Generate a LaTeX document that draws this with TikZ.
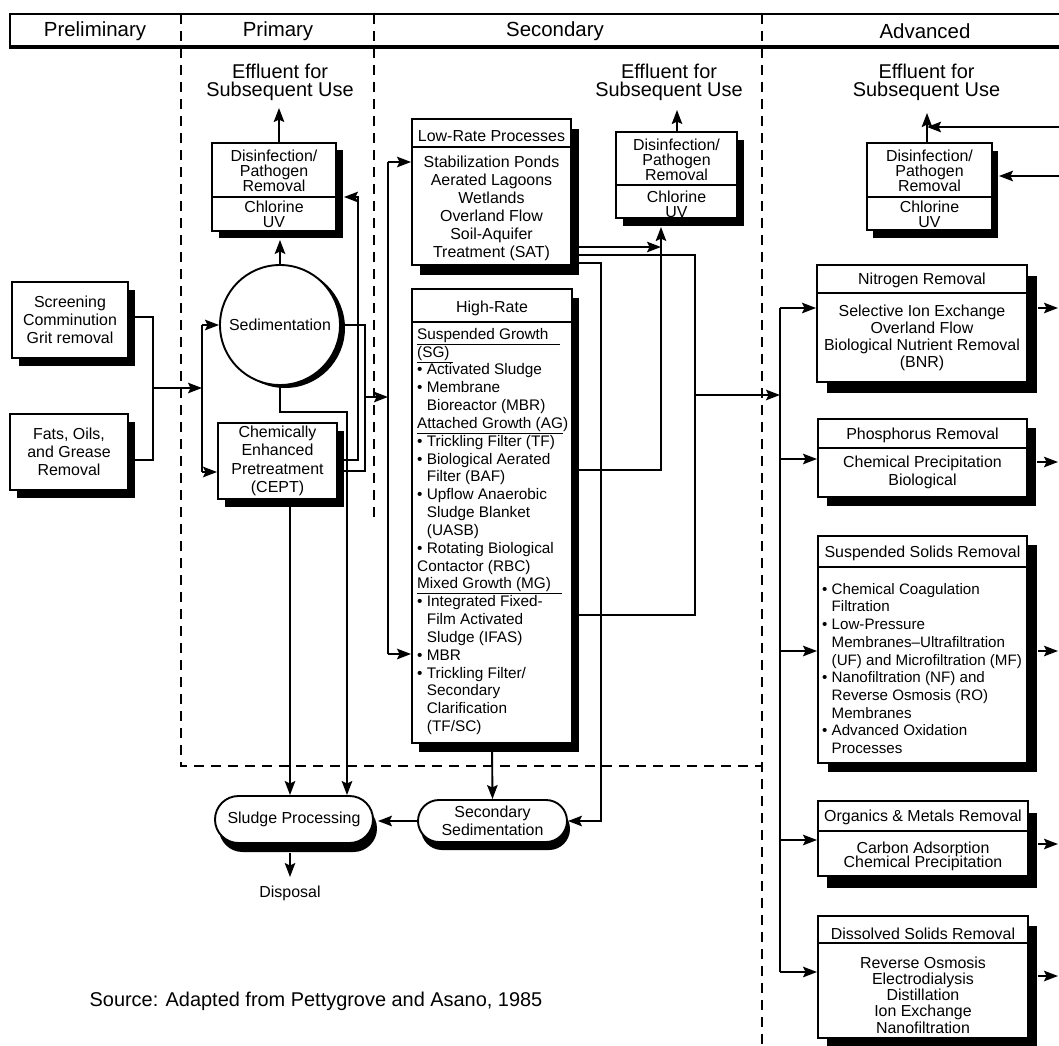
\documentclass[tikz,border=0pt]{standalone}
\usepackage{fontspec}
\setmainfont{Liberation Sans}
\usetikzlibrary{arrows.meta,shadows,calc,shapes.misc}
\lineskiplimit=-50pt
\begin{document}
\begin{tikzpicture}[x=1bp,y=-1bp,
  tx/.style={inner sep=0pt, align=center, font=\fontsize{16}{18}\selectfont},
  shad/.style 2 args={drop shadow={shadow xshift=#1bp, shadow yshift=-#2bp, opacity=1, fill=black}},
  boxb/.style={draw, line width=1.9bp, fill=white, tx},
  ln/.style={line width=1.9bp},
  ar/.style={line width=1.9bp, -{Stealth[length=14bp,width=10.5bp,inset=2.5bp]}},
  sep/.style={line width=1.6bp, dash pattern=on 10bp off 7bp},
  hd/.style={inner sep=0pt, font=\fontsize{20.5}{22}\selectfont},
  eff/.style={tx, font=\fontsize{20}{18.5}\selectfont},
  tight/.style={font=\fontsize{16}{15}\selectfont},
]
\useasboundingbox (0,0) rectangle (1059,1046);
\fill[white] (0,0) rectangle (1059,1046);

% ---------- header ----------
\node[draw, line width=1.5bp, fill=white, minimum width=1060bp, minimum height=32bp, inner sep=0pt] (hdr) at (540,30) {};
\draw[line width=2.5bp] ($(hdr.south west)+(0,1)$) -- ($(hdr.south east)+(0,1)$);
\node[hd] (tPre) at (95,31.5) {Preliminary};
\node[hd] (tPri) at (278,31.5) {Primary};
\node[hd] (tSec) at (555,31.5) {Secondary};
\node[hd] (tAdv) at (925,31.5) {Advanced};

% ---------- preliminary ----------
\node[boxb, shad={7}{8}, minimum width=116bp, minimum height=76bp] (screen) at (70,320) {Screening\\Comminution\\Grit removal};
\node[boxb, shad={7}{8}, minimum width=118bp, minimum height=76bp] (fats) at (69,452) {Fats, Oils,\\and Grease\\Removal};

% ---------- primary ----------
\node[circle, draw, line width=1.9bp, fill=white, minimum size=120bp, tx, shad={5}{3}] (sed) at (280,325) {Sedimentation};
\node[boxb, shad={7}{8}, minimum width=119bp, minimum height=76bp, font=\fontsize{16}{18.5}\selectfont] (cept) at (277.5,461) {Chemically\\Enhanced\\Pretreatment\\(CEPT)};

\node[boxb, shad={7}{7}, minimum width=124bp, minimum height=88bp] (pdis) at (274,187) {};
\draw[ln] (pdis.west |- 0,197) -- (pdis.east |- 0,197);
\node[tx, tight] (pdisT) at (274,171) {Disinfection/\\Pathogen\\Removal};
\node[tx, tight] (pdisB) at (274,214.5) {Chlorine\\UV};
\node[eff] (peff) at (280,82.5) {Effluent for\\Subsequent Use};
\coordinate (peffin) at (279,108);

% ---------- secondary ----------
\node[boxb, shad={8}{10}, minimum width=159bp, minimum height=146bp] (lowrate) at (491.5,192) {};
\draw[ln] (lowrate.west |- 0,147) -- (lowrate.east |- 0,147);
\node[tx] (lowrateT) at (491.5,136.5) {Low-Rate Processes};
\node[tx] (lowrateB) at (491.5,208.5) {Stabilization Ponds\\Aerated Lagoons\\Wetlands\\Overland Flow\\Soil-Aquifer\\Treatment (SAT)};

\node[boxb, shad={7}{9}, minimum width=160bp, minimum height=454bp] (highrate) at (492,516) {};
\draw[ln] (highrate.west |- 0,322) -- (highrate.east |- 0,322);
\node[tx] (highrateT) at (492,308.5) {High-Rate};
\node[tx, align=left, anchor=west, font=\fontsize{15.4}{17.9}\selectfont] (highrateB) at (417,531.5) {%
\underline{\makebox[143bp][l]{Suspended Growth}}\\
\underline{\makebox[36bp][l]{(SG)}}\\
• Activated Sludge\\
• Membrane\\
\hspace*{9.7bp}Bioreactor (MBR)\\
\underline{\makebox[146bp][l]{Attached Growth (AG)}}\\
• Trickling Filter (TF)\\
• Biological Aerated\\
\hspace*{9.7bp}Filter (BAF)\\
• Upflow Anaerobic\\
\hspace*{9.7bp}Sludge Blanket\\
\hspace*{9.7bp}(UASB)\\
• Rotating Biological\\
Contactor (RBC)\\
\underline{\makebox[145bp][l]{Mixed Growth (MG)}}\\
• Integrated Fixed-\\
\hspace*{9.7bp}Film Activated\\
\hspace*{9.7bp}Sludge (IFAS)\\
• MBR\\
• Trickling Filter/\\
\hspace*{9.7bp}Secondary\\
\hspace*{9.7bp}Clarification\\
\hspace*{9.7bp}(TF/SC)};

\node[boxb, shad={7}{8}, minimum width=121bp, minimum height=86bp] (sdis) at (676.5,175) {};
\draw[ln] (sdis.west |- 0,185) -- (sdis.east |- 0,185);
\node[tx, tight] (sdisT) at (676.5,159.5) {Disinfection/\\Pathogen\\Removal};
\node[tx, tight] (sdisB) at (676.5,204) {Chlorine\\UV};
\node[eff] (seff) at (669,82.5) {Effluent for\\Subsequent Use};
\coordinate (seffin) at (677,110);

\node[rounded rectangle, draw, line width=1.9bp, fill=white, tx, minimum width=158bp, minimum height=47bp, shad={4}{9}] (sludge) at (294,819.5) {Sludge Processing};
\node[rounded rectangle, draw, line width=1.9bp, fill=white, tx, minimum width=149bp, minimum height=42bp, shad={3}{8}] (secsed) at (492.5,821) {Secondary\\Sedimentation};
\node[tx] (disp) at (290,893.5) {Disposal};
\coordinate (dispin) at (290,877);

% ---------- advanced ----------
\node[boxb, shad={6}{8}, minimum width=125bp, minimum height=87bp] (adis) at (929.5,186.5) {};
\draw[ln] (adis.west |- 0,197) -- (adis.east |- 0,197);
\node[tx, tight] (adisT) at (929.5,171) {Disinfection/\\Pathogen\\Removal};
\node[tx, tight] (adisB) at (929.5,214.5) {Chlorine\\UV};
\node[eff] (aeff) at (926.5,82.5) {Effluent for\\Subsequent Use};
\coordinate (aeffin) at (927,113);

\node[boxb, shad={10}{11}, minimum width=210bp, minimum height=117bp] (nitro) at (922,323.5) {};
\draw[ln] (nitro.west |- 0,293) -- (nitro.east |- 0,293);
\node[tx] (nitroT) at (922,280.5) {Nitrogen Removal};
\node[tx, font=\fontsize{16}{17}\selectfont] (nitroB) at (922,337.5) {Selective Ion Exchange\\Overland Flow\\Biological Nutrient Removal\\(BNR)};

\node[boxb, shad={9}{9}, minimum width=209bp, minimum height=78bp] (phos) at (922.5,458) {};
\draw[ln] (phos.west |- 0,448) -- (phos.east |- 0,448);
\node[tx] (phosT) at (922.5,435.5) {Phosphorus Removal};
\node[tx] (phosB) at (922.5,472.5) {Chemical Precipitation\\Biological};

\node[boxb, shad={10}{9}, minimum width=209bp, minimum height=227bp] (susp) at (922.5,649.5) {};
\draw[ln] (susp.west |- 0,567) -- (susp.east |- 0,567);
\node[tx] (suspT) at (922.5,553) {Suspended Solids Removal};
\node[tx, align=left, anchor=west, font=\fontsize{15.2}{17.8}\selectfont] (suspB) at (822,668.5) {%
• Chemical Coagulation\\
\hspace*{9.5bp}Filtration\\
• Low-Pressure\\
\hspace*{9.5bp}Membranes–Ultrafiltration\\
\hspace*{9.5bp}(UF) and Microfiltration (MF)\\
• Nanofiltration (NF) and\\
\hspace*{9.5bp}Reverse Osmosis (RO)\\
\hspace*{9.5bp}Membranes\\
• Advanced Oxidation\\
\hspace*{9.5bp}Processes};

\node[boxb, shad={9}{12}, minimum width=210bp, minimum height=75bp] (org) at (923,838.5) {};
\draw[ln] (org.west |- 0,831) -- (org.east |- 0,831);
\node[tx] (orgT) at (923,817.5) {Organics \& Metals Removal};
\node[tx, font=\fontsize{16}{14.5}\selectfont] (orgB) at (923,856.5) {Carbon Adsorption\\Chemical Precipitation};

\node[boxb, shad={9}{10}, minimum width=210bp, minimum height=122bp] (diss) at (923,977) {};
\draw[ln] (diss.west |- 0,943) -- (diss.east |- 0,943);
\node[tx] (dissT) at (923,933.5) {Dissolved Solids Removal};
\node[tx, font=\fontsize{16}{16.25}\selectfont] (dissB) at (923,995) {Reverse Osmosis\\Electrodialysis\\Distillation\\Ion Exchange\\Nanofiltration};

\node[tx, font=\fontsize{20}{22}\selectfont] (src) at (316,1001.5) {Source: Adapted from Pettygrove and Asano, 1985};

% ---------- dashed separators ----------
\draw[sep] (181,14) -- (181,766) -- (762,766);
\draw[sep] (374,14) -- (374,520);
\draw[sep] (762,14) -- (762,1046);

% ---------- connectors: preliminary ----------
\coordinate (m1) at (153,388);
\coordinate (pb1) at (202,325);
\coordinate (pb2) at (202,472);
\draw[ln] (screen.east |- 0,317) -| (m1) |- (fats.east |- 0,460);
\draw[ar] (m1) -- (m1 -| pb1);
\draw[ln] (pb1) -- (pb2);
\draw[ar] (pb1) -- (sed.west);
\draw[ar] (pb2) -- (cept.west |- pb2);

% ---------- connectors: primary ----------
\draw[ar] (sed.north) -- ($(sed.north |- pdis.south)+(0,8)$);
\draw[ar] (pdis.north -| peffin) -- (peffin);
\coordinate (s1) at (365,325);
\coordinate (s2) at (365,471);
\coordinate (s3) at (365,397);
\coordinate (sb1) at (388,162);
\coordinate (sb2) at (388,654);
\draw[ln] (sed.east) -- (s1) -- (s2) -- (cept.east |- s2);
\draw[ar] (s3) -- (s3 -| sb1);
\coordinate (c1) at (358,460);
\coordinate (c2) at (358,197);
\draw[ar] (cept.east |- c1) -- (c1) -- (c2) -- ($(pdis.east |- c2)+(7,0)$);
\draw[ar] (cept.south -| 290,0) -- (sludge.north -| 290,0);
\coordinate (d1) at (347,412);
\draw[ar] (sed.south) |- (d1) -- (sludge.north -| d1);

% ---------- connectors: secondary ----------
\draw[ln] (sb1) -- (sb2);
\draw[ar] (sb1) -- (lowrate.west |- sb1);
\draw[ar] (sb2) -- (highrate.west |- sb2);
\coordinate (v1) at (661,227);
\draw[ar] (lowrate.east |- 0,247) -- (v1 |- 0,247);
\draw[ar] (highrate.east |- 0,470) -| (v1);
\draw[ar] (sdis.north -| seffin) -- (seffin);
\coordinate (w1) at (695,255);
\coordinate (w2) at (695,615);
\coordinate (w3) at (695,395);
\coordinate (ab1) at (780,308);
\coordinate (ab2) at (780,972);
\draw[ln] (lowrate.east |- w1) -- (w1) -- (w2) -- (highrate.east |- w2);
\draw[ar] (w3) -- (w3 -| ab1);
\coordinate (x1) at (601,263);
\draw[ar] (lowrate.east |- x1) -- (x1) |- (secsed.east);
\draw[ar] (highrate.south) -- (secsed.north);
\draw[ar] (secsed.west) -- ($(sludge.east |- secsed.west)+(4,0)$);
\draw[ar] ($(sludge.south)+(-4,9)$) -- (dispin);

% ---------- connectors: advanced ----------
\draw[ln] (ab1) -- (ab2);
\draw[ar] (ab1) -- (nitro.west |- ab1);
\draw[ar] (ab1 |- 0,459) -- (phos.west |- 0,459);
\draw[ar] (ab1 |- 0,651) -- (susp.west |- 0,651);
\draw[ar] (ab1 |- 0,840) -- (org.west |- 0,840);
\draw[ar] (ab2) -- (diss.west |- ab2);
\coordinate (o1) at (1058,308);
\coordinate (o2) at (1058,462);
\coordinate (o3) at (1058,651);
\coordinate (o4) at (1058,844);
\coordinate (o5) at (1058,976);
\draw[ar] ($(nitro.east |- o1)+(10,0)$) -- (o1);
\draw[ar] ($(phos.east |- o2)+(9,0)$) -- (o2);
\draw[ar] ($(susp.east |- o3)+(10,0)$) -- (o3);
\draw[ar] ($(org.east |- o4)+(9,0)$) -- (o4);
\draw[ar] ($(diss.east |- o5)+(9,0)$) -- (o5);
\coordinate (e1) at (1062,127);
\coordinate (e2) at (1062,176);
\draw[ar] (adis.north -| aeffin) -- (aeffin);
\draw[ar] (e1) -- (e1 -| aeffin);
\draw[ar] (e2) -- ($(adis.east |- e2)+(6,0)$);
\end{tikzpicture}
\end{document}
